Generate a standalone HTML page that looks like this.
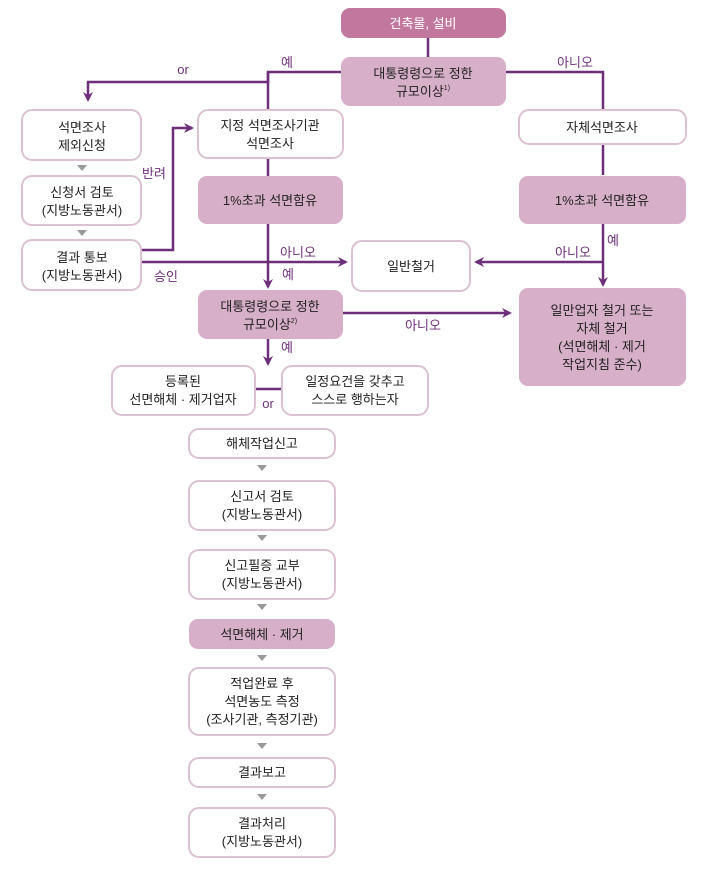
<!DOCTYPE html>
<html><head><meta charset="utf-8"><style>
body{margin:0;background:#fff;width:719px;height:871px;overflow:hidden;font-family:"Liberation Sans","Noto Sans CJK KR",sans-serif;}
svg text{font-family:"Liberation Sans","Noto Sans CJK KR",sans-serif;font-size:13px;fill:#222;text-anchor:middle}
.l{fill:#6d2f7a;font-size:13px}
</style></head><body>
<svg width="719" height="871" viewBox="0 0 719 871">
<defs><marker id="a" markerWidth="10" markerHeight="10" refX="8" refY="5" orient="auto" markerUnits="userSpaceOnUse"><path d="M0,0 L10,5 L0,10 L3,5z" fill="#6d2f7a"/></marker></defs>
<g stroke="#6d2f7a" stroke-width="2.5" fill="none">
<line x1="428" y1="38" x2="428" y2="57"/>
<polyline points="341,72 88,82" stroke="none"/>
<polyline points="341,72 268,72 268,82 88,82 88,100" marker-end="url(#a)"/>
<polyline points="268,72 268,110"/>
<polyline points="268,158 268,176"/>
<polyline points="268,224 268,287" marker-end="url(#a)"/>
<polyline points="506,72 603,72 603,110"/>
<polyline points="603,144 603,175"/>
<polyline points="603,224 603,285" marker-end="url(#a)"/>
<polyline points="603,262 476,262" marker-end="url(#a)"/>
<polyline points="141,250 173,250 173,128 192,128" marker-end="url(#a)"/>
<polyline points="141,262 346,262" marker-end="url(#a)"/>
<polyline points="343,313 510,313" marker-end="url(#a)"/>
<polyline points="268,339 268,364" marker-end="url(#a)"/>
<line x1="255" y1="389" x2="282" y2="389"/>
</g>
<g stroke-width="2">
<rect x="341" y="8" width="165" height="30" rx="9" fill="#c2779f"/>
<rect x="341" y="57" width="165" height="49" rx="9" fill="#d8afc9"/>
<rect x="198" y="176" width="145" height="48" rx="9" fill="#d8afc9"/>
<rect x="519" y="176" width="167" height="48" rx="9" fill="#d8afc9"/>
<rect x="198" y="290" width="145" height="49" rx="9" fill="#d8afc9"/>
<rect x="519" y="288" width="167" height="98" rx="9" fill="#d8afc9"/>
<rect x="189" y="619" width="146" height="30" rx="9" fill="#d8afc9"/>
<g fill="#fff" stroke="#dcc1d3">
<rect x="22" y="110" width="119" height="50" rx="10"/>
<rect x="22" y="176" width="119" height="49" rx="10"/>
<rect x="22" y="240" width="119" height="50" rx="10"/>
<rect x="198" y="110" width="145" height="48" rx="10"/>
<rect x="519" y="110" width="167" height="34" rx="10"/>
<rect x="352" y="241" width="118" height="50" rx="10"/>
<rect x="112" y="366" width="143" height="49" rx="10"/>
<rect x="282" y="366" width="146" height="49" rx="10"/>
<rect x="189" y="429" width="146" height="29" rx="10"/>
<rect x="189" y="481" width="146" height="49" rx="10"/>
<rect x="189" y="550" width="146" height="49" rx="10"/>
<rect x="189" y="668" width="146" height="67" rx="10"/>
<rect x="189" y="758" width="146" height="29" rx="10"/>
<rect x="189" y="808" width="146" height="49" rx="10"/>
</g></g>
<g fill="#999">
<path d="M77,165 h10 l-5,6z"/><path d="M77,230 h10 l-5,6z"/>
<path d="M257,465 h10 l-5,6z"/><path d="M257,535 h10 l-5,6z"/><path d="M257,604 h10 l-5,6z"/>
<path d="M257,655 h10 l-5,6z"/><path d="M257,743 h10 l-5,6z"/><path d="M257,794 h10 l-5,6z"/>
</g>
<text x="423" y="28" style="fill:#fff">건축물, 설비</text>
<text x="423" y="78">대통령령으로 정한</text><text x="423" y="96">규모이상<tspan font-size="7" dy="-6">1)</tspan></text>
<text x="82" y="132">석면조사</text><text x="82" y="150">제외신청</text>
<text x="82" y="197">신청서 검토</text><text x="82" y="215">(지방노동관서)</text>
<text x="82" y="262">결과 통보</text><text x="82" y="280">(지방노동관서)</text>
<text x="270" y="130">지정 석면조사기관</text><text x="270" y="148">석면조사</text>
<text x="270" y="205">1%초과 석면함유</text>
<text x="602" y="132">자체석면조사</text>
<text x="602" y="205">1%초과 석면함유</text>
<text x="411" y="271">일반철거</text>
<text x="270" y="311">대통령령으로 정한</text><text x="270" y="329">규모이상<tspan font-size="7" dy="-6">2)</tspan></text>
<text x="602" y="315">일만업자 철거 또는</text><text x="602" y="333">자체 철거</text><text x="602" y="351">(석면해체 · 제거</text><text x="602" y="369">작업지침 준수)</text>
<text x="183" y="386">등록된</text><text x="183" y="404">선면해체 · 제거업자</text>
<text x="355" y="386">일정요건을 갖추고</text><text x="355" y="404">스스로 행하는자</text>
<text x="262" y="448">해체작업신고</text>
<text x="262" y="501">신고서 검토</text><text x="262" y="519">(지방노동관서)</text>
<text x="262" y="570">신고필증 교부</text><text x="262" y="588">(지방노동관서)</text>
<text x="262" y="639">석면해체 · 제거</text>
<text x="262" y="688">적업완료 후</text><text x="262" y="706">석면농도 측정</text><text x="262" y="724">(조사기관, 측정기관)</text>
<text x="262" y="777">결과보고</text>
<text x="262" y="828">결과처리</text><text x="262" y="846">(지방노동관서)</text>
<text class="l" x="183" y="74">or</text>
<text class="l" x="287" y="67">예</text>
<text class="l" x="575" y="67">아니오</text>
<text class="l" x="154" y="178">반려</text>
<text class="l" x="166" y="281">승인</text>
<text class="l" x="298" y="257">아니오</text>
<text class="l" x="288" y="279">예</text>
<text class="l" x="573" y="257">아니오</text>
<text class="l" x="613" y="245">예</text>
<text class="l" x="423" y="330">아니오</text>
<text class="l" x="287" y="352">예</text>
<text class="l" x="268" y="408">or</text>
</svg>
</body></html>
